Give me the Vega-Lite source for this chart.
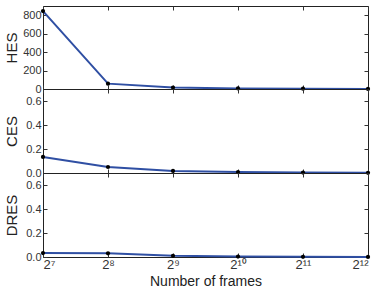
{
  "$schema": "https://vega.github.io/schema/vega-lite/v6.json",
  "padding": {"left": 3, "top": 5, "right": 12, "bottom": 2},
  "background": "white",
  "spacing": 0,
  "bounds": "flush",
  "config": {
    "font": "Liberation Sans",
    "view": {"stroke": "#222", "strokeWidth": 1},
    "axis": {"labelFont": "Liberation Sans", "titleFont": "Liberation Sans", "labelColor": "#333", "titleColor": "#222", "labelFontSize": 11, "titleFontSize": 15, "titleFontWeight": "normal", "grid": false, "domain": false, "tickColor": "#333", "tickSize": -4, "labelPadding": 6, "zindex": 1}
  },
  "data": {"values": [
    {"m": "HES", "n": 128, "v": 845}, {"m": "HES", "n": 256, "v": 58}, {"m": "HES", "n": 512, "v": 15}, {"m": "HES", "n": 1024, "v": 6}, {"m": "HES", "n": 2048, "v": 3}, {"m": "HES", "n": 4096, "v": 1},
    {"m": "CES", "n": 128, "v": 0.134}, {"m": "CES", "n": 256, "v": 0.05}, {"m": "CES", "n": 512, "v": 0.017}, {"m": "CES", "n": 1024, "v": 0.008}, {"m": "CES", "n": 2048, "v": 0.004}, {"m": "CES", "n": 4096, "v": 0.002},
    {"m": "DRES", "n": 128, "v": 0.033}, {"m": "DRES", "n": 256, "v": 0.031}, {"m": "DRES", "n": 512, "v": 0.01}, {"m": "DRES", "n": 1024, "v": 0.004}, {"m": "DRES", "n": 2048, "v": 0.002}, {"m": "DRES", "n": 4096, "v": 0.001}
  ]},
  "vconcat": [
    {
      "width": 325, "height": 83,
      "transform": [{"filter": "datum.m == 'HES'"}],
      "layer": [
        {"mark": {"type": "line", "color": "#2f4fa3", "strokeWidth": 2},
         "encoding": {
          "x": {"field": "n", "type": "quantitative", "scale": {"type": "log", "base": 2, "domain": [128, 4096]},
            "axis": {"values": [128, 256, 512, 1024, 2048, 4096], "labels": false, "title": null, "orient": "bottom", "minExtent": 0, "maxExtent": 0}},
          "y": {"field": "v", "type": "quantitative", "scale": {"domain": [0, 900], "nice": false},
            "axis": {"values": [0, 200, 400, 600, 800], "title": "HES", "titleX": -32, "titleY": 41.5, "titleAngle": 270, "titleAlign": "center", "titleBaseline": "middle"}}
         }},
        {"mark": {"type": "point", "filled": true, "color": "black", "size": 18, "opacity": 1},
         "encoding": {
          "x": {"field": "n", "type": "quantitative", "axis": {"values": [128, 256, 512, 1024, 2048, 4096], "labels": false, "title": null, "orient": "top", "minExtent": 0, "maxExtent": 0}},
          "y": {"field": "v", "type": "quantitative", "axis": {"values": [0, 200, 400, 600, 800], "labels": false, "title": null, "orient": "right", "minExtent": 0, "maxExtent": 0}}
         }}
      ],
      "resolve": {"axis": {"x": "independent", "y": "independent"}}
    },
    {
      "width": 325, "height": 84,
      "transform": [{"filter": "datum.m == 'CES'"}],
      "layer": [
        {"mark": {"type": "line", "color": "#2f4fa3", "strokeWidth": 2},
         "encoding": {
          "x": {"field": "n", "type": "quantitative", "scale": {"type": "log", "base": 2, "domain": [128, 4096]},
            "axis": {"values": [128, 256, 512, 1024, 2048, 4096], "labels": false, "title": null, "minExtent": 0, "maxExtent": 0}},
          "y": {"field": "v", "type": "quantitative", "scale": {"domain": [0, 0.7], "nice": false},
            "axis": {"values": [0, 0.2, 0.4, 0.6], "format": ".1f", "title": "CES", "titleX": -32, "titleY": 42, "titleAngle": 270, "titleAlign": "center", "titleBaseline": "middle"}}
         }},
        {"mark": {"type": "point", "filled": true, "color": "black", "size": 18, "opacity": 1},
         "encoding": {
          "x": {"field": "n", "type": "quantitative", "axis": {"values": [128, 256, 512, 1024, 2048, 4096], "labels": false, "title": null, "orient": "top", "minExtent": 0, "maxExtent": 0}},
          "y": {"field": "v", "type": "quantitative", "axis": {"values": [0, 0.2, 0.4, 0.6], "labels": false, "title": null, "orient": "right", "minExtent": 0, "maxExtent": 0}}
         }}
      ],
      "resolve": {"axis": {"x": "independent", "y": "independent"}}
    },
    {
      "width": 325, "height": 84,
      "transform": [{"filter": "datum.m == 'DRES'"}],
      "layer": [
        {"mark": {"type": "line", "color": "#2f4fa3", "strokeWidth": 2},
         "encoding": {
          "x": {"field": "n", "type": "quantitative", "scale": {"type": "log", "base": 2, "domain": [128, 4096]},
            "axis": {"values": [128, 256, 512, 1024, 2048, 4096], "title": "Number of frames", "titleFontSize": 14, "titlePadding": 3, "labelFontSize": 13, "labelPadding": 5,
              "labelExpr": "datum.value == 128 ? '2⁷' : datum.value == 256 ? '2⁸' : datum.value == 512 ? '2⁹' : datum.value == 1024 ? '2¹⁰' : datum.value == 2048 ? '2¹¹' : '2¹²'"}},
          "y": {"field": "v", "type": "quantitative", "scale": {"domain": [0, 0.7], "nice": false},
            "axis": {"values": [0, 0.2, 0.4, 0.6], "format": ".1f", "title": "DRES", "titleX": -32, "titleY": 42, "titleAngle": 270, "titleAlign": "center", "titleBaseline": "middle"}}
         }},
        {"mark": {"type": "point", "filled": true, "color": "black", "size": 18, "opacity": 1},
         "encoding": {
          "x": {"field": "n", "type": "quantitative", "axis": {"values": [128, 256, 512, 1024, 2048, 4096], "labels": false, "title": null, "orient": "top", "minExtent": 0, "maxExtent": 0}},
          "y": {"field": "v", "type": "quantitative", "axis": {"values": [0, 0.2, 0.4, 0.6], "labels": false, "title": null, "orient": "right", "minExtent": 0, "maxExtent": 0}}
         }}
      ],
      "resolve": {"axis": {"x": "independent", "y": "independent"}}
    }
  ]
}
